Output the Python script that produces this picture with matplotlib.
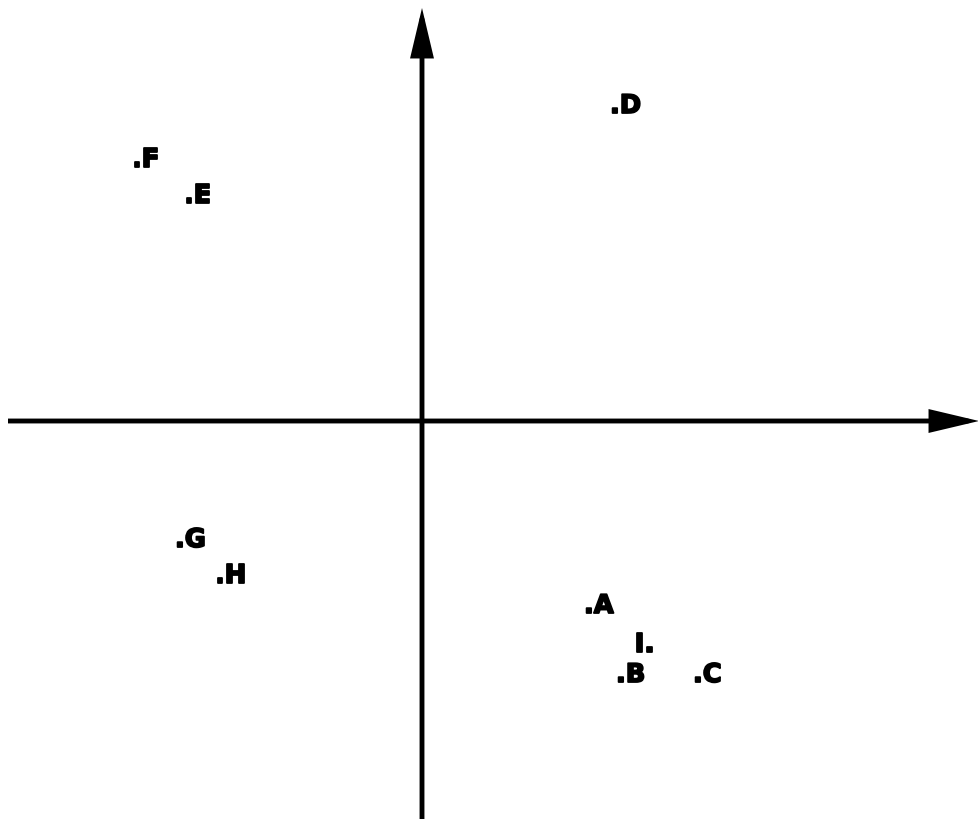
import matplotlib
matplotlib.use("Agg")
import matplotlib.pyplot as plt
import matplotlib.patheffects as pe
from matplotlib.patches import FancyArrowPatch

# label positions (left edge, baseline), origin at the axes crossing
labels = [".A", ".B", ".C", ".D", ".E", ".F", ".G", ".H", "I."]
x_vals = [1.62, 1.94, 2.71, 1.88, -2.38, -2.90, -2.47, -2.07, 2.13]
y_vals = [-1.92, -2.61, -2.61, 3.08, 2.18, 2.54, -1.26, -1.62, -2.31]

x_range = (-4.22, 5.57)
y_range = (-3.98, 4.21)

fig = plt.figure(figsize=(9.79, 8.19), dpi=100)
ax = fig.add_axes([0, 0, 1, 1])
ax.set_xlim(*x_range)
ax.set_ylim(*y_range)
ax.axis("off")

# axes with arrow heads
for start, tip in [((-4.14, 0), (5.57, 0)), ((0, -3.98), (0, 4.13))]:
    arr = FancyArrowPatch(start, tip, arrowstyle="-|>,head_length=1.35,head_width=0.32",
                          mutation_scale=20, lw=3.5, color="black",
                          shrinkA=0, shrinkB=0, capstyle="butt", joinstyle="miter")
    ax.add_patch(arr)

for lab, x, y in zip(labels, x_vals, y_vals):
    ax.text(x, y, lab, ha="left", va="baseline", fontsize=18.5,
            fontweight="bold", family="DejaVu Sans", color="black",
            path_effects=[pe.withStroke(linewidth=1.3, foreground="black")])

fig.savefig("out.png", dpi=100)
